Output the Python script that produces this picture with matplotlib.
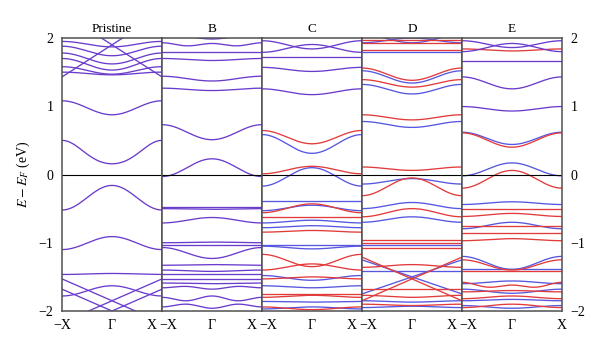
import numpy as np
import matplotlib
matplotlib.use("Agg")
import matplotlib.pyplot as plt

plt.rcParams["font.family"] = ["Liberation Serif", "DejaVu Serif"]
plt.rcParams["mathtext.fontset"] = "stix"

# Panel titles and k-path labels
panel_titles = ["Pristine", "B", "C", "D", "E"]
k_labels = ["\u2212X", "\u0393", "X"]
y_ticks = [-2, -1, 0, 1, 2]

# Bands are given as (E at zone edge, E at Gamma) or (E edge, E at half way, E at Gamma), in eV.
# "both": spin-degenerate bands; "up": spin-up; "down": spin-down.
pristine_both = [
    (1.95, 1.87), (1.88, 1.74), (1.78, 1.62), (1.70, 1.53), (1.58, 1.47), (1.50, 1.46),
    (1.08, 0.875), (0.50, 0.30, 0.157),
    (-0.52, -0.16), (-1.10, -0.91), (-1.465, -1.45), (-1.78, -1.63),
]
# Folded linear bands as (k, E) knots
pristine_lines = [
    [(-1, 1.43), (1, 2.37)], [(-1, 2.37), (1, 1.43)],
    [(-1, -1.53), (1, -2.17)], [(-1, -2.17), (1, -1.53)],
    [(-1, -1.68), (0, -2.0), (1, -1.68)],
]

b_both = [
    (2.08, 1.985), (1.93, 1.885, 1.92), (1.79, 1.79), (1.70, 1.67), (1.44, 1.37), (1.265, 1.23),
    (0.73, 0.51), (-0.03, 0.23),
    (-0.47, -0.47), (-0.50, -0.51), (-0.71, -0.63), (-1.00, -0.99), (-1.03, -1.03),
    (-1.07, -1.23), (-1.33, -1.32), (-1.40, -1.42), (-1.455, -1.455), (-1.53, -1.53),
    (-1.59, -1.60), (-1.66, -1.64, -1.68), (-1.80, -1.85, -1.78), (-1.94, -1.90, -1.96),
]

c_both = [(1.96, 1.84), (1.79, 1.905), (1.72, 1.72), (1.57, 1.51), (1.255, 1.17)]
c_up = [
    (0.645, 0.45), (0.01, 0.12), (-0.56, -0.43), (-0.625, -0.625), (-0.845, -0.82),
    (-1.17, -1.35), (-1.40, -1.31), (-1.53, -1.50), (-1.75, -1.75), (-1.80, -1.77),
    (-1.94, -1.98),
]
c_down = [
    (0.585, 0.31), (-0.17, 0.10), (-0.39, -0.39), (-0.53, -0.45), (-0.71, -0.67),
    (-0.78, -0.75), (-1.03, -1.03), (-1.05, -1.09), (-1.48, -1.55), (-1.63, -1.66),
    (-1.86, -1.87), (-1.97, -1.94),
]

d_both = []
d_up = [
    (1.97, 1.97), (1.92, 1.92), (1.82, 1.82), (1.56, 1.38), (1.39, 1.28), (0.875, 0.80),
    (0.11, 0.06), (-0.31, -0.05), (-0.62, -0.50), (-0.967, -0.967), (-1.006, -1.006),
    (-1.08, -1.08), (-1.36, -1.32), (-1.675, -1.675), (-1.77, -1.80), (-1.90, -1.92),
]
d_up_lines = [[(-1, -1.21), (1, -1.85)], [(-1, -1.85), (1, -1.21)]]
d_down = [
    (2.05, 1.93), (1.93, 2.00), (1.80, 1.80), (1.52, 1.34), (1.32, 1.18), (0.777, 0.69),
    (-0.14, -0.06), (-0.50, -0.41), (-0.70, -0.62), (-1.03, -1.03), (-1.41, -1.41),
    (-1.85, -1.87), (-1.95, -1.93),
]
d_down_lines = [[(-1, -1.25), (1, -1.75)], [(-1, -1.75), (1, -1.25)]]

e_both = [(1.96, 1.86), (1.80, 1.92), (1.67, 1.67), (1.43, 1.255), (0.996, 0.93)]
e_up = [
    (1.84, 1.81), (0.61, 0.40), (-0.20, 0.06), (-0.50, -0.50), (-0.615, -0.57),
    (-0.75, -0.75), (-0.86, -0.86), (-0.97, -0.94), (-1.25, -1.40), (-1.41, -1.41),
    (-1.58, -1.65, -1.62), (-1.72, -1.70), (-1.82, -1.78), (-1.95, -1.90),
]
e_down = [
    (0.62, 0.44), (-0.02, 0.17), (-0.44, -0.40), (-0.795, -0.70), (-1.20, -1.39),
    (-1.39, -1.39), (-1.60, -1.56), (-1.68, -1.74), (-1.85, -1.83), (-1.92, -1.96),
]

panels = [
    dict(both=pristine_both, up=[], down=[], both_lines=pristine_lines, up_lines=[], down_lines=[]),
    dict(both=b_both, up=[], down=[], both_lines=[], up_lines=[], down_lines=[]),
    dict(both=c_both, up=c_up, down=c_down, both_lines=[], up_lines=[], down_lines=[]),
    dict(both=d_both, up=d_up, down=d_down, both_lines=[], up_lines=d_up_lines, down_lines=d_down_lines),
    dict(both=e_both, up=e_up, down=e_down, both_lines=[], up_lines=[], down_lines=[]),
]

COL_BOTH = "#6a3ccc"
COL_UP = "#e23b3b"
COL_DOWN = "#5656e0"
LW = 0.95

k = np.linspace(-1, 1, 201)


def band(spec):
    """Smooth symmetric dispersion through edge / half-way / Gamma energies."""
    if len(spec) == 2:
        e_edge, e_g = spec
        e_mid = 0.5 * (e_edge + e_g)
    else:
        e_edge, e_mid, e_g = spec
    a1 = 0.5 * (e_g - e_edge)
    s = 0.5 * (e_g + e_edge)
    a0 = 0.5 * (s + e_mid)
    a2 = 0.5 * (s - e_mid)
    return a0 + a1 * np.cos(np.pi * k) + a2 * np.cos(2 * np.pi * k)


fig = plt.figure(figsize=(6.0, 3.45), dpi=100)
left, right, bottom, top = 62 / 600, 562 / 600, 1 - 311 / 345, 1 - 38 / 345
w = (right - left) / 5

for i, (title, p) in enumerate(zip(panel_titles, panels)):
    ax = fig.add_axes([left + i * w, bottom, w, top - bottom])
    for spec in p["down"]:
        ax.plot(k, band(spec), color=COL_DOWN, lw=LW)
    for knots in p["down_lines"]:
        kk, ee = zip(*knots)
        ax.plot(kk, ee, color=COL_DOWN, lw=LW)
    for spec in p["up"]:
        ax.plot(k, band(spec), color=COL_UP, lw=LW)
    for knots in p["up_lines"]:
        kk, ee = zip(*knots)
        ax.plot(kk, ee, color=COL_UP, lw=LW)
    for spec in p["both"]:
        ax.plot(k, band(spec), color=COL_BOTH, lw=LW)
    for knots in p["both_lines"]:
        kk, ee = zip(*knots)
        ax.plot(kk, ee, color=COL_BOTH, lw=LW)

    ax.axhline(0, color="black", lw=0.8)
    ax.set_xlim(-1, 1)
    ax.set_ylim(-2, 2)
    for sp in ax.spines.values():
        sp.set_color("#505050")
        sp.set_linewidth(1.1)
    ax.set_title(title, fontsize=9.5, pad=4)

    ax.set_xticks([])
    ax.set_yticks(y_ticks)
    ax.tick_params(axis="y", length=0, labelsize=10, pad=6)
    if i == 0:
        ax.tick_params(axis="y", labelleft=True, labelright=False)
    elif i == 4:
        ax.tick_params(axis="y", labelleft=False, labelright=True)
    else:
        ax.tick_params(axis="y", labelleft=False, labelright=False)

    # k-path labels under each panel
    dx_left = 0 if i == 0 else 4.7
    dx_right = 0 if i == 4 else -7.2
    for kv, lab, dx in zip([-1, 0, 1], k_labels, [dx_left, 0, dx_right]):
        ax.annotate(lab, xy=(kv, 0), xycoords=("data", "axes fraction"),
                    xytext=(dx, -6), textcoords="offset points",
                    ha="center", va="top", fontsize=10, annotation_clip=False)
    if i == 0:
        ax.set_ylabel(r"$E-E_F$ (eV)", fontsize=10, labelpad=5)

fig.savefig("out.png", dpi=100)
